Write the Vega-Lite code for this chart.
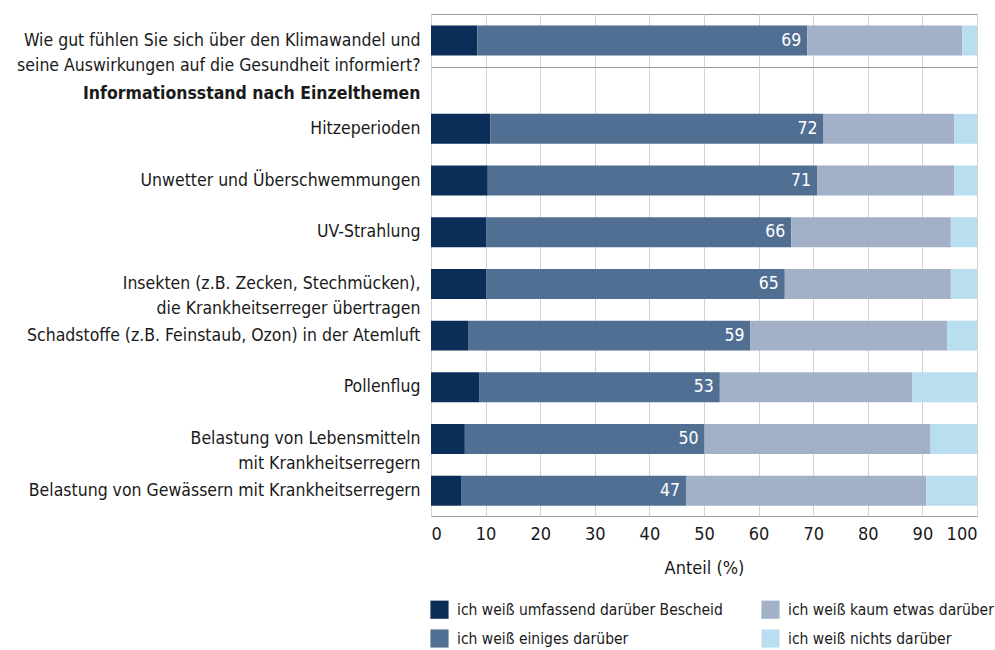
{
  "$schema": "https://vega.github.io/schema/vega-lite/v6.json",
  "padding": {"left": 3, "top": 13, "right": 5, "bottom": 5},
  "background": "white",
  "bounds": "flush",
  "datasets": {
    "top": [
      {"q": "Wie gut fühlen Sie sich über den Klimawandel und|seine Auswirkungen auf die Gesundheit informiert?", "cat": "ich weiß umfassend darüber Bescheid", "rk": 1, "v": 8.5, "lbl": ""},
      {"q": "Wie gut fühlen Sie sich über den Klimawandel und|seine Auswirkungen auf die Gesundheit informiert?", "cat": "ich weiß einiges darüber", "rk": 2, "v": 60.4, "lbl": "69"},
      {"q": "Wie gut fühlen Sie sich über den Klimawandel und|seine Auswirkungen auf die Gesundheit informiert?", "cat": "ich weiß kaum etwas darüber", "rk": 3, "v": 28.4, "lbl": ""},
      {"q": "Wie gut fühlen Sie sich über den Klimawandel und|seine Auswirkungen auf die Gesundheit informiert?", "cat": "ich weiß nichts darüber", "rk": 4, "v": 2.7, "lbl": ""}
    ],
    "main": [
      {"q": "Hitzeperioden", "cat": "ich weiß umfassend darüber Bescheid", "rk": 1, "v": 10.9, "lbl": ""},
      {"q": "Hitzeperioden", "cat": "ich weiß einiges darüber", "rk": 2, "v": 61.0, "lbl": "72"},
      {"q": "Hitzeperioden", "cat": "ich weiß kaum etwas darüber", "rk": 3, "v": 23.9, "lbl": ""},
      {"q": "Hitzeperioden", "cat": "ich weiß nichts darüber", "rk": 4, "v": 4.2, "lbl": ""},
      {"q": "Unwetter und Überschwemmungen", "cat": "ich weiß umfassend darüber Bescheid", "rk": 1, "v": 10.4, "lbl": ""},
      {"q": "Unwetter und Überschwemmungen", "cat": "ich weiß einiges darüber", "rk": 2, "v": 60.3, "lbl": "71"},
      {"q": "Unwetter und Überschwemmungen", "cat": "ich weiß kaum etwas darüber", "rk": 3, "v": 25.1, "lbl": ""},
      {"q": "Unwetter und Überschwemmungen", "cat": "ich weiß nichts darüber", "rk": 4, "v": 4.2, "lbl": ""},
      {"q": "UV-Strahlung", "cat": "ich weiß umfassend darüber Bescheid", "rk": 1, "v": 10.1, "lbl": ""},
      {"q": "UV-Strahlung", "cat": "ich weiß einiges darüber", "rk": 2, "v": 55.9, "lbl": "66"},
      {"q": "UV-Strahlung", "cat": "ich weiß kaum etwas darüber", "rk": 3, "v": 29.2, "lbl": ""},
      {"q": "UV-Strahlung", "cat": "ich weiß nichts darüber", "rk": 4, "v": 4.8, "lbl": ""},
      {"q": "Insekten (z.B. Zecken, Stechmücken),|die Krankheitserreger übertragen", "cat": "ich weiß umfassend darüber Bescheid", "rk": 1, "v": 10.1, "lbl": ""},
      {"q": "Insekten (z.B. Zecken, Stechmücken),|die Krankheitserreger übertragen", "cat": "ich weiß einiges darüber", "rk": 2, "v": 54.7, "lbl": "65"},
      {"q": "Insekten (z.B. Zecken, Stechmücken),|die Krankheitserreger übertragen", "cat": "ich weiß kaum etwas darüber", "rk": 3, "v": 30.4, "lbl": ""},
      {"q": "Insekten (z.B. Zecken, Stechmücken),|die Krankheitserreger übertragen", "cat": "ich weiß nichts darüber", "rk": 4, "v": 4.8, "lbl": ""},
      {"q": "Schadstoffe (z.B. Feinstaub, Ozon) in der Atemluft", "cat": "ich weiß umfassend darüber Bescheid", "rk": 1, "v": 6.9, "lbl": ""},
      {"q": "Schadstoffe (z.B. Feinstaub, Ozon) in der Atemluft", "cat": "ich weiß einiges darüber", "rk": 2, "v": 51.6, "lbl": "59"},
      {"q": "Schadstoffe (z.B. Feinstaub, Ozon) in der Atemluft", "cat": "ich weiß kaum etwas darüber", "rk": 3, "v": 36.0, "lbl": ""},
      {"q": "Schadstoffe (z.B. Feinstaub, Ozon) in der Atemluft", "cat": "ich weiß nichts darüber", "rk": 4, "v": 5.5, "lbl": ""},
      {"q": "Pollenflug", "cat": "ich weiß umfassend darüber Bescheid", "rk": 1, "v": 8.9, "lbl": ""},
      {"q": "Pollenflug", "cat": "ich weiß einiges darüber", "rk": 2, "v": 44.0, "lbl": "53"},
      {"q": "Pollenflug", "cat": "ich weiß kaum etwas darüber", "rk": 3, "v": 35.3, "lbl": ""},
      {"q": "Pollenflug", "cat": "ich weiß nichts darüber", "rk": 4, "v": 11.8, "lbl": ""},
      {"q": "Belastung von Lebensmitteln|mit Krankheitserregern", "cat": "ich weiß umfassend darüber Bescheid", "rk": 1, "v": 6.2, "lbl": ""},
      {"q": "Belastung von Lebensmitteln|mit Krankheitserregern", "cat": "ich weiß einiges darüber", "rk": 2, "v": 43.9, "lbl": "50"},
      {"q": "Belastung von Lebensmitteln|mit Krankheitserregern", "cat": "ich weiß kaum etwas darüber", "rk": 3, "v": 41.4, "lbl": ""},
      {"q": "Belastung von Lebensmitteln|mit Krankheitserregern", "cat": "ich weiß nichts darüber", "rk": 4, "v": 8.5, "lbl": ""},
      {"q": "Belastung von Gewässern mit Krankheitserregern", "cat": "ich weiß umfassend darüber Bescheid", "rk": 1, "v": 5.5, "lbl": ""},
      {"q": "Belastung von Gewässern mit Krankheitserregern", "cat": "ich weiß einiges darüber", "rk": 2, "v": 41.2, "lbl": "47"},
      {"q": "Belastung von Gewässern mit Krankheitserregern", "cat": "ich weiß kaum etwas darüber", "rk": 3, "v": 44.0, "lbl": ""},
      {"q": "Belastung von Gewässern mit Krankheitserregern", "cat": "ich weiß nichts darüber", "rk": 4, "v": 9.3, "lbl": ""}
    ]
  },
  "spacing": 0,
  "vconcat": [
    {
      "width": 546,
      "height": 53,
      "data": {"name": "top"},
      "encoding": {
        "y": {"field": "q", "type": "nominal", "scale": {"paddingInner": 0, "paddingOuter": 0.383},
              "axis": {"title": null, "labelExpr": "split(datum.label, '|')", "minExtent": 427, "maxExtent": 427}},
        "x": {"field": "v", "type": "quantitative", "stack": "zero", "scale": {"domain": [0, 100], "nice": false},
              "axis": {"labels": false, "ticks": false, "title": null, "domain": false, "minExtent": 0, "maxExtent": 0, "labelPadding": 0,
                       "values": [0, 10, 20, 30, 40, 50, 60, 70, 80, 90, 100]}},
        "order": {"field": "rk", "type": "quantitative"}
      },
      "layer": [
        {"mark": {"type": "bar"},
         "encoding": {"color": {"field": "cat", "type": "nominal", "title": null,
            "scale": {"domain": ["ich weiß umfassend darüber Bescheid", "ich weiß einiges darüber", "ich weiß kaum etwas darüber", "ich weiß nichts darüber"],
                      "range": ["#0b2e59", "#516f93", "#a2b0c8", "#b9deef"]}}}},
        {"mark": {"type": "text", "align": "right", "baseline": "middle", "dx": -6, "color": "white", "fontSize": 17.5},
         "encoding": {"detail": {"field": "cat"}, "text": {"field": "lbl", "type": "nominal"}}}
      ]
    },
    {
      "width": 546,
      "height": 449,
      "data": {"name": "main"},
      "encoding": {
        "y": {"field": "q", "type": "nominal", "sort": null,
              "scale": {"paddingInner": 0.42, "paddingOuter": 0.5525, "align": 0.82},
              "axis": {"title": "Informationsstand nach Einzelthemen", "titleAngle": 0, "titleAlign": "right", "titleBaseline": "middle",
                       "titleX": -11, "titleY": 26, "titleFontWeight": "bold", "titleFontSize": 17.5,
                       "labelExpr": "split(datum.label, '|')", "minExtent": 427, "maxExtent": 427}},
        "x": {"field": "v", "type": "quantitative", "stack": "zero", "scale": {"domain": [0, 100], "nice": false},
              "axis": {"title": "Anteil (%)", "ticks": false, "domain": false, "labelPadding": 9, "titlePadding": 16,
                       "values": [0, 10, 20, 30, 40, 50, 60, 70, 80, 90, 100], "labelFontSize": 18, "titleFontSize": 18, "titleFontWeight": "normal"}},
        "order": {"field": "rk", "type": "quantitative"}
      },
      "layer": [
        {"mark": {"type": "bar"},
         "encoding": {"color": {"field": "cat", "type": "nominal", "title": null,
            "scale": {"domain": ["ich weiß umfassend darüber Bescheid", "ich weiß einiges darüber", "ich weiß kaum etwas darüber", "ich weiß nichts darüber"],
                      "range": ["#0b2e59", "#516f93", "#a2b0c8", "#b9deef"]},
            "legend": {"orient": "none", "legendX": -1, "legendY": 586, "columns": 2, "symbolType": "square", "symbolSize": 330,
                       "symbolStrokeWidth": 0, "labelFontSize": 15.5, "rowPadding": 10, "columnPadding": 38, "labelOffset": 8}}}},
        {"mark": {"type": "text", "align": "right", "baseline": "middle", "dx": -6, "color": "white", "fontSize": 17.5},
         "encoding": {"detail": {"field": "cat"}, "text": {"field": "lbl", "type": "nominal"}}}
      ]
    }
  ],
  "config": {
    "font": "DejaVu Sans Condensed, Roboto Condensed, Liberation Sans Narrow, Roboto, sans-serif",
    "view": {"stroke": "#9a9a9a", "strokeWidth": 1},
    "axis": {"gridColor": "#d2d2d2", "gridWidth": 1, "labelColor": "#1a1a1a", "titleColor": "#1a1a1a",
             "labelFont": "DejaVu Sans Condensed, Roboto Condensed, Liberation Sans Narrow, Roboto, sans-serif",
             "titleFont": "DejaVu Sans Condensed, Roboto Condensed, Liberation Sans Narrow, Roboto, sans-serif",
             "labelFontSize": 17.5, "labelLineHeight": 25},
    "axisY": {"ticks": false, "domain": false, "grid": false, "labelPadding": 11, "labelFontSize": 17.5, "labelLimit": 420},
    "legend": {"labelFont": "DejaVu Sans Condensed, Roboto Condensed, Liberation Sans Narrow, Roboto, sans-serif", "labelColor": "#1a1a1a", "labelLimit": 400},
    "text": {"font": "DejaVu Sans Condensed, Roboto Condensed, Liberation Sans Narrow, Roboto, sans-serif"}
  }
}
